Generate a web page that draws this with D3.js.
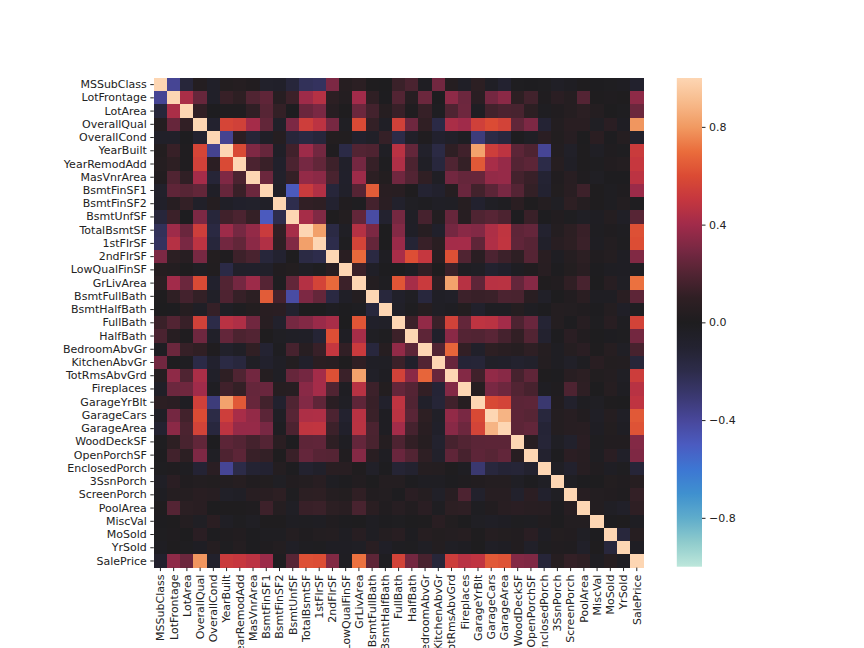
<!DOCTYPE html>
<html><head><meta charset="utf-8">
<script src="https://cdn.jsdelivr.net/npm/d3@7"></script>
<style>body{margin:0;background:#fff}svg text{font-family:"DejaVu Sans",sans-serif;font-size:11px;fill:#222}</style>
</head><body><svg id="c" width="864" height="648"></svg>
<script>
const labels = ["MSSubClass","LotFrontage","LotArea","OverallQual","OverallCond","YearBuilt","YearRemodAdd","MasVnrArea","BsmtFinSF1","BsmtFinSF2","BsmtUnfSF","TotalBsmtSF","1stFlrSF","2ndFlrSF","LowQualFinSF","GrLivArea","BsmtFullBath","BsmtHalfBath","FullBath","HalfBath","BedroomAbvGr","KitchenAbvGr","TotRmsAbvGrd","Fireplaces","GarageYrBlt","GarageCars","GarageArea","WoodDeckSF","OpenPorchSF","EnclosedPorch","3SsnPorch","ScreenPorch","PoolArea","MiscVal","MoSold","YrSold","SalePrice"];

// upper triangle: upper[i] = correlations of labels[i] with labels[i+1..]
const upper = [
[-0.386,-0.140,0.033,-0.059,0.028,0.041,0.023,-0.070,-0.066,-0.141,-0.239,-0.252,0.308,0.046,0.075,0.004,-0.002,0.132,0.177,-0.023,0.282,0.040,-0.046,0.085,-0.040,-0.099,-0.013,-0.006,-0.012,-0.044,-0.026,0.008,-0.008,-0.014,-0.021,-0.084],
[0.426,0.252,-0.059,0.123,0.089,0.193,0.234,0.050,0.133,0.392,0.457,0.080,0.038,0.403,0.101,-0.007,0.199,0.054,0.263,-0.006,0.352,0.267,0.071,0.286,0.345,0.089,0.152,0.011,0.070,0.041,0.206,0.003,0.011,0.007,0.352],
[0.106,-0.006,0.014,0.014,0.104,0.214,0.111,-0.003,0.261,0.299,0.051,0.005,0.263,0.158,0.048,0.126,0.014,0.120,-0.018,0.190,0.271,-0.025,0.155,0.180,0.172,0.085,-0.018,0.020,0.043,0.078,0.038,0.001,-0.014,0.264],
[-0.092,0.572,0.551,0.411,0.240,-0.059,0.308,0.538,0.476,0.295,-0.030,0.593,0.111,-0.040,0.551,0.273,0.102,-0.184,0.427,0.397,0.548,0.601,0.562,0.239,0.309,-0.114,0.030,0.065,0.065,-0.031,0.071,-0.027,0.791],
[-0.376,0.074,-0.128,-0.046,0.040,-0.137,-0.171,-0.144,0.029,0.025,-0.080,-0.055,0.118,-0.194,-0.061,0.013,-0.087,-0.058,-0.024,-0.324,-0.186,-0.152,-0.003,-0.033,0.070,0.026,0.055,-0.002,0.069,-0.004,0.044,-0.078],
[0.593,0.316,0.250,-0.049,0.149,0.391,0.282,0.010,-0.184,0.199,0.188,-0.038,0.468,0.243,-0.071,-0.175,0.096,0.148,0.826,0.538,0.479,0.225,0.189,-0.387,0.031,-0.050,0.005,-0.034,0.012,-0.014,0.523],
[0.180,0.128,-0.068,0.181,0.291,0.240,0.140,-0.062,0.287,0.119,-0.012,0.439,0.183,-0.041,-0.150,0.192,0.113,0.642,0.421,0.372,0.206,0.226,-0.194,0.045,-0.039,0.006,-0.010,0.021,0.036,0.507],
[0.265,-0.072,0.114,0.364,0.345,0.175,-0.069,0.391,0.085,0.027,0.277,0.201,0.103,-0.038,0.281,0.249,0.253,0.364,0.373,0.160,0.126,-0.110,0.019,0.061,0.012,-0.030,-0.006,-0.008,0.477],
[-0.050,-0.495,0.522,0.446,-0.137,-0.065,0.208,0.649,0.067,0.059,0.004,-0.107,-0.081,0.044,0.260,0.154,0.224,0.297,0.204,0.112,-0.102,0.026,0.062,0.140,0.004,-0.016,0.014,0.386],
[-0.209,0.105,0.097,-0.099,0.015,-0.010,0.159,0.071,-0.076,-0.032,-0.016,-0.041,-0.035,0.046,-0.088,-0.038,-0.018,0.068,0.003,0.037,-0.030,0.089,0.042,0.005,-0.015,0.032,-0.011],
[0.415,0.318,0.004,0.028,0.240,-0.423,-0.096,0.289,-0.041,0.167,0.030,0.251,0.052,0.191,0.214,0.183,-0.005,0.129,-0.003,0.021,-0.013,-0.035,-0.024,0.035,-0.041,0.214],
[0.820,-0.175,-0.033,0.455,0.307,0.000,0.323,-0.049,0.050,-0.069,0.286,0.339,0.322,0.435,0.487,0.232,0.247,-0.095,0.037,0.084,0.126,-0.018,0.013,-0.015,0.614],
[-0.203,-0.014,0.566,0.245,0.002,0.381,-0.120,0.127,0.068,0.409,0.411,0.234,0.439,0.490,0.235,0.212,-0.065,0.056,0.089,0.132,-0.021,0.031,-0.014,0.606],
[0.063,0.688,-0.170,-0.024,0.421,0.610,0.503,0.059,0.616,0.195,0.071,0.184,0.138,0.092,0.208,0.062,-0.024,0.041,0.081,0.016,0.035,-0.029,0.319],
[0.135,-0.047,-0.006,-0.001,-0.027,0.106,0.007,0.131,-0.021,-0.036,-0.094,-0.068,-0.025,0.018,0.061,-0.004,0.027,0.062,-0.004,-0.022,-0.029,-0.026],
[0.035,-0.019,0.630,0.415,0.521,0.100,0.825,0.462,0.231,0.467,0.469,0.247,0.330,0.009,0.021,0.102,0.170,-0.002,0.050,-0.037,0.709],
[-0.148,-0.065,-0.031,-0.151,-0.042,-0.053,0.138,0.125,0.131,0.179,0.175,0.067,-0.050,0.000,0.023,0.068,-0.023,-0.025,0.067,0.227],
[-0.055,-0.012,0.047,-0.038,-0.024,0.029,-0.078,-0.021,-0.024,0.040,-0.025,-0.008,0.035,0.032,0.020,-0.007,0.033,-0.047,-0.017],
[0.136,0.363,0.133,0.555,0.244,0.484,0.470,0.406,0.187,0.260,-0.115,0.035,-0.008,0.050,-0.014,0.056,-0.020,0.561],
[0.227,-0.068,0.343,0.204,0.197,0.219,0.164,0.108,0.200,-0.095,-0.005,0.072,0.022,0.001,-0.009,-0.010,0.284],
[0.199,0.677,0.108,-0.065,0.086,0.065,0.047,0.094,0.042,-0.024,0.044,0.071,0.008,0.047,-0.036,0.168],
[0.256,-0.124,-0.125,-0.051,-0.064,-0.090,-0.070,0.037,-0.025,-0.052,-0.015,0.062,0.027,0.032,-0.136],
[0.326,0.149,0.362,0.338,0.166,0.234,0.004,-0.007,0.060,0.084,0.025,0.037,-0.035,0.534],
[0.047,0.301,0.269,0.200,0.169,-0.025,0.011,0.185,0.095,0.001,0.046,-0.024,0.467],
[0.589,0.565,0.224,0.229,-0.297,0.024,-0.075,-0.015,-0.032,0.006,-0.001,0.486],
[0.882,0.226,0.214,-0.151,0.036,0.050,0.021,-0.043,0.041,-0.039,0.640],
[0.225,0.241,-0.122,0.035,0.051,0.061,-0.027,0.028,-0.027,0.623],
[0.059,-0.126,-0.033,-0.074,0.073,-0.010,0.021,0.022,0.324],
[-0.093,-0.006,0.074,0.061,-0.019,0.071,-0.058,0.316],
[-0.037,-0.083,0.054,0.018,-0.029,-0.010,-0.129],
[-0.031,-0.008,0.000,0.029,0.019,0.045],
[0.051,0.032,0.023,0.011,0.111],
[0.030,-0.034,-0.060,0.092],
[-0.006,0.005,-0.021],
[-0.146,0.046],
[-0.029],
[]
];
const cbTicks = [-0.8,-0.4,0.0,0.4,0.8];

// icefire-like colour stops
const cStops = [-1,-0.9,-0.8,-0.7,-0.6,-0.5,-0.4,-0.3,-0.2,-0.1,0,0.1,0.2,0.3,0.4,0.5,0.6,0.7,0.8,0.9,1];
const cCols = ["#bde7db","#8fcbcc","#5eaccb","#3f90cf","#3d76d3","#4b5bc0","#48479a","#3a3870","#2d2c4a","#232230","#1e1d1f","#2f1f24","#522433","#792843","#a12b4a","#c4363f","#db4b34","#ea6d3c","#f19a62","#f7ba8b","#fdd6b3"];
const color = d3.scaleLinear().domain(cStops).range(cCols).interpolate(d3.interpolateRgb).clamp(true);

const nVars = labels.length;
const cells = [];
for (let i = 0; i < nVars; i++) for (let j = 0; j < nVars; j++) {
  let v;
  if (i === j) v = 1;
  else if (j > i) v = upper[i][j - i - 1];
  else v = upper[j][i - j - 1];
  cells.push({i, j, v});
}

const svg = d3.select("#c");
const hmLeft = 153.8, hmTop = 78, hmSize = 489.6;
const x = d3.scaleBand().domain(labels).range([hmLeft, hmLeft + hmSize]);
const y = d3.scaleBand().domain(labels).range([hmTop, hmTop + hmSize]);

svg.append("g").attr("shape-rendering", "crispEdges").selectAll("rect").data(cells).join("rect")
  .attr("x", d => x(labels[d.j])).attr("y", d => y(labels[d.i]))
  .attr("width", x.bandwidth() + 0.6).attr("height", y.bandwidth() + 0.6)
  .attr("fill", d => color(d.v));

const yAxis = svg.append("g").attr("transform", `translate(${hmLeft},0)`)
  .call(d3.axisLeft(y).tickSize(3.5).tickPadding(3.5));
yAxis.select(".domain").remove();
yAxis.selectAll("text").style("font-size", "11px").style("font-family", "DejaVu Sans").attr("fill", "#222");
yAxis.selectAll("line").attr("stroke", "#222");

const xAxis = svg.append("g").attr("transform", `translate(0,${hmTop + hmSize})`)
  .call(d3.axisBottom(x).tickSize(3.5).tickPadding(3.5));
xAxis.select(".domain").remove();
xAxis.selectAll("line").attr("stroke", "#222");
xAxis.selectAll("text")
  .style("font-size", "11px").style("font-family", "DejaVu Sans").attr("fill", "#222")
  .attr("text-anchor", "end").attr("dy", "0.35em")
  .attr("transform", "translate(0,7) rotate(-90)").attr("y", 0).attr("x", 0);

// colorbar
const cbX = 676.8, cbW = 25.2, cbTop = 78, cbBot = 566.7;
const cbScale = d3.scaleLinear().domain([-1, 1]).range([cbBot, cbTop]);
const defs = svg.append("defs");
const grad = defs.append("linearGradient").attr("id", "cbg").attr("x1", 0).attr("y1", 1).attr("x2", 0).attr("y2", 0);
d3.range(0, 1.0001, 0.01).forEach(t => {
  grad.append("stop").attr("offset", t).attr("stop-color", color(-1 + 2 * t));
});
svg.append("rect").attr("x", cbX).attr("y", cbTop).attr("width", cbW).attr("height", cbBot - cbTop).attr("fill", "url(#cbg)");
const cbAxis = svg.append("g").attr("transform", `translate(${cbX + cbW},0)`)
  .call(d3.axisRight(cbScale).tickValues(cbTicks).tickSize(3.5).tickPadding(3.5)
    .tickFormat(d => d3.format(".1f")(d).replace("-", "\u2212")));
cbAxis.select(".domain").remove();
cbAxis.selectAll("line").attr("stroke", "#222");
cbAxis.selectAll("text").style("font-size", "11px").style("font-family", "DejaVu Sans").attr("fill", "#222");
</script></body></html>
